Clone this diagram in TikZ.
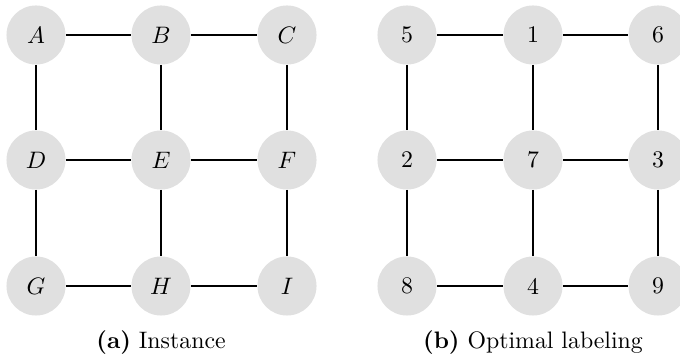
\documentclass[tikz,border=0pt]{standalone}
\definecolor{nodegray}{RGB}{224,224,224}
\begin{document}
\begin{tikzpicture}[x=0.42pt,y=-0.42pt,
  vert/.style={circle,fill=nodegray,draw=none,minimum size=24.8pt,inner sep=0pt,font=\normalsize},
  edge/.style={line width=0.84pt,black},
  captext/.style={font=\normalsize}]
\useasboundingbox (0,0) rectangle (680,360);
% left graph
\node[vert] (A) at (36,35) {$A$};
\node[vert] (B) at (161,35) {$B$};
\node[vert] (C) at (287,35) {$C$};
\node[vert] (D) at (36,160) {$D$};
\node[vert] (E) at (161,160) {$E$};
\node[vert] (F) at (287,160) {$F$};
\node[vert] (G) at (36,286) {$G$};
\node[vert] (H) at (161,286) {$H$};
\node[vert] (I) at (287,286) {$I$};
\draw[edge] (A) -- (B); \draw[edge] (B) -- (C);
\draw[edge] (D) -- (E); \draw[edge] (E) -- (F);
\draw[edge] (G) -- (H); \draw[edge] (H) -- (I);
\draw[edge] (A) -- (D); \draw[edge] (D) -- (G);
\draw[edge] (B) -- (E); \draw[edge] (E) -- (H);
\draw[edge] (C) -- (F); \draw[edge] (F) -- (I);
% right graph
\node[vert] (r5) at (407,35) {5};
\node[vert] (r1) at (533,35) {1};
\node[vert] (r6) at (658,35) {6};
\node[vert] (r2) at (407,160) {2};
\node[vert] (r7) at (533,160) {7};
\node[vert] (r3) at (658,160) {3};
\node[vert] (r8) at (407,286) {8};
\node[vert] (r4) at (533,286) {4};
\node[vert] (r9) at (658,286) {9};
\draw[edge] (r5) -- (r1); \draw[edge] (r1) -- (r6);
\draw[edge] (r2) -- (r7); \draw[edge] (r7) -- (r3);
\draw[edge] (r8) -- (r4); \draw[edge] (r4) -- (r9);
\draw[edge] (r5) -- (r2); \draw[edge] (r2) -- (r8);
\draw[edge] (r1) -- (r7); \draw[edge] (r7) -- (r4);
\draw[edge] (r6) -- (r3); \draw[edge] (r3) -- (r9);
% captions
\node[captext] (capa) at (161,343) {\textbf{(a)} Instance};
\node[captext] (capb) at (533,343) {\textbf{(b)} Optimal labeling};
\end{tikzpicture}
\end{document}
